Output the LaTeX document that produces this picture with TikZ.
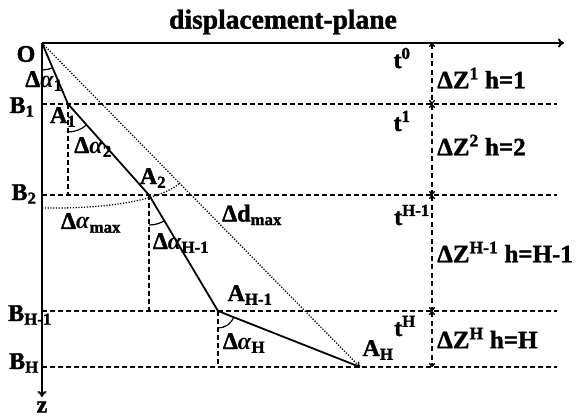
\documentclass[tikz,border=0pt]{standalone}
\usepackage{fontspec}
\setmainfont{Liberation Serif}[BoldFeatures={FakeBold=1.5}]
\usetikzlibrary{arrows.meta}
\begin{document}
\begin{tikzpicture}[x=1pt,y=-1pt,
  lbl/.style={font=\fontsize{24}{25}\selectfont\bfseries, inner sep=0pt},
  rlbl/.style={font=\fontsize{25}{26}\selectfont\bfseries, inner sep=0pt, anchor=west},
  ttl/.style={font=\fontsize{27.5}{29}\selectfont\bfseries, inner sep=0pt},
  axis/.style={line width=2pt, -{To[length=6pt,width=9pt]}},
  lvl/.style={dash pattern=on 5pt off 3pt, line width=1.4pt},
  dim/.style={dash pattern=on 5pt off 3.5pt, line width=1.4pt, {To[length=4pt,width=6pt]}-{To[length=4pt,width=6pt]}},
  pathl/.style={line width=1.8pt},
  dotl/.style={dash pattern=on 1.2pt off 1.6pt, line width=1.3pt},
  ang/.style={line width=1.2pt}]
\useasboundingbox (0,0) rectangle (582,417);
% key points
\coordinate (O) at (42,43);
\coordinate (A1) at (68,104);
\coordinate (A2) at (149,195);
\coordinate (AH1) at (218,311);
\coordinate (AH) at (360,367);
\coordinate (B1) at (42,104);
\coordinate (B2) at (42,195);
\coordinate (BH1) at (42,311);
\coordinate (BH) at (42,367);
\coordinate (E1) at (557,104);
\coordinate (E2) at (557,195);
\coordinate (EH1) at (557,311);
\coordinate (EH) at (557,367);
\coordinate (Xend) at (564,43);
\coordinate (Zend) at (42,397);
\coordinate (T0) at (432,43);
\coordinate (T1) at (432,104);
\coordinate (T2) at (432,195);
\coordinate (T3) at (432,311);
\coordinate (T4) at (432,367);
\coordinate (M1) at (42,208);
\coordinate (M2) at (180,183);
% level lines
\draw[lvl] (B1) -- (E1);
\draw[lvl] (B2) -- (E2);
\draw[lvl] (BH1) -- (EH1);
\draw[lvl] (BH) -- (EH);
% verticals from points
\draw[lvl] (A1) -- (A1|-B2);
\draw[lvl] (A2) -- (A2|-BH1);
\draw[lvl] (AH1) -- (AH1|-BH);
% axes
\draw[axis] (O) -- (Xend);
\draw[axis] (O) -- (Zend);
% dimension arrows
\draw[dim] (T0) -- (T1);
\draw[dim] (T1) -- (T2);
\draw[dim] (T2) -- (T3);
\draw[dim] (T3) -- (T4);
% path
\draw[pathl] (O) -- (A1) -- (A2) -- (AH1) -- (AH);
\draw[dotl, -{To[length=5pt,width=6pt]}] (O) -- (AH);
\draw[dotl] (M1) .. controls (110,209) and (160,200) .. (M2);
% angle arcs
\draw[ang] ([shift={(90:27)}]O) arc[start angle=90, end angle=67, radius=27];
\draw[ang] ([shift={(90:28)}]A1) arc[start angle=90, end angle=48.3, radius=28];
\draw[ang] ([shift={(90:30)}]A2) arc[start angle=90, end angle=59.3, radius=30];
\draw[ang] ([shift={(90:17)}]AH1) arc[start angle=90, end angle=21.5, radius=17];
% labels
\node[ttl] (title) at (283,22) {displacement-plane};
\node[lbl] (lO) at (26,54) {O};
\node[lbl] (la1) at (44,81) {Δ\textit{α}\textsubscript{1}};
\node[lbl] (lB1) at (22,107) {B\textsubscript{1}};
\node[lbl] (lA1) at (63,117) {A\textsubscript{1}};
\node[lbl] (la2) at (93,147) {Δ\textit{α}\textsubscript{2}};
\node[lbl] (lA2) at (153,178) {A\textsubscript{2}};
\node[lbl] (lB2) at (24,194) {B\textsubscript{2}};
\node[lbl] (lam) at (91,223) {Δ\textit{α}\textsubscript{max}};
\node[lbl] (ldm) at (252,215) {Δd\textsubscript{max}};
\node[lbl] (laH1) at (181,243) {Δ\textit{α}\textsubscript{H-1}};
\node[lbl] (lAH1) at (250,295) {A\textsubscript{H-1}};
\node[lbl] (lBH1) at (30,315) {B\textsubscript{H-1}};
\node[lbl] (laH) at (244,343) {Δ\textit{α}\textsubscript{H}};
\node[lbl] (lAH) at (378,350) {A\textsubscript{H}};
\node[lbl] (lBH) at (24,363) {B\textsubscript{H}};
\node[lbl] (lz) at (42,407) {z};
\node[lbl] (lt0) at (402,58) {t\textsuperscript{0}};
\node[lbl] (lt1) at (402,121) {t\textsuperscript{1}};
\node[lbl] (lt2) at (412,215) {t\textsuperscript{H-1}};
\node[lbl] (lt3) at (405,326) {t\textsuperscript{H}};
\node[rlbl] (dz1) at (437,78) {ΔZ\textsuperscript{1} h=1};
\node[rlbl] (dz2) at (437,145) {ΔZ\textsuperscript{2} h=2};
\node[rlbl] (dz3) at (437,252) {ΔZ\textsuperscript{H-1} h=H-1};
\node[rlbl] (dz4) at (437,338) {ΔZ\textsuperscript{H} h=H};
\end{tikzpicture}
\end{document}
